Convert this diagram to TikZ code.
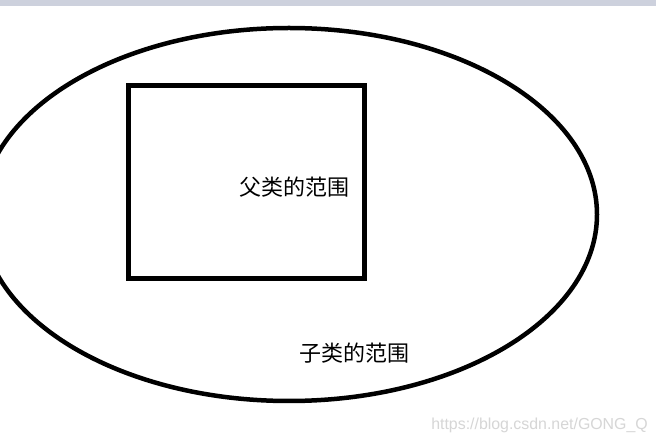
\documentclass[tikz,border=0pt]{standalone}
\usepackage{fontspec}
\setmainfont{Liberation Sans}
\newfontfamily\cjk{Noto Sans CJK SC}
\usetikzlibrary{shapes.geometric}
\definecolor{topbar}{HTML}{CDD1DD}
\definecolor{wmark}{HTML}{D6D6D6}
\begin{document}
\begin{tikzpicture}[x=1pt,y=-1pt,
  label/.style={inner sep=0pt,anchor=west,font=\cjk\fontsize{22}{25}\selectfont},
  scopebox/.style={draw=black,line width=5pt,minimum width=236pt,minimum height=193pt,inner sep=0pt},
  scopeell/.style={draw=black,ellipse,line width=4.5pt,minimum width=616pt,minimum height=373pt,inner sep=0pt}]
\useasboundingbox (0,0) rectangle (656,443);
\clip (0,0) rectangle (656,443);
\fill[white] (0,0) rectangle (656,443);
\fill[topbar] (0,0) rectangle (656,6);
\node[scopeell] (child) at (289,214.5) {};
\node[scopebox] (parent) at (246.5,182) {};
\node[label] (ptext) at (239,187) {父类的范围};
\node[label] (ctext) at (299,353) {子类的范围};
\node[inner sep=0pt,anchor=east,text=wmark,font=\fontsize{15.9}{18}\selectfont] (wm) at (648,425) {https://blog.csdn.net/GONG\_Q};
\end{tikzpicture}
\end{document}
